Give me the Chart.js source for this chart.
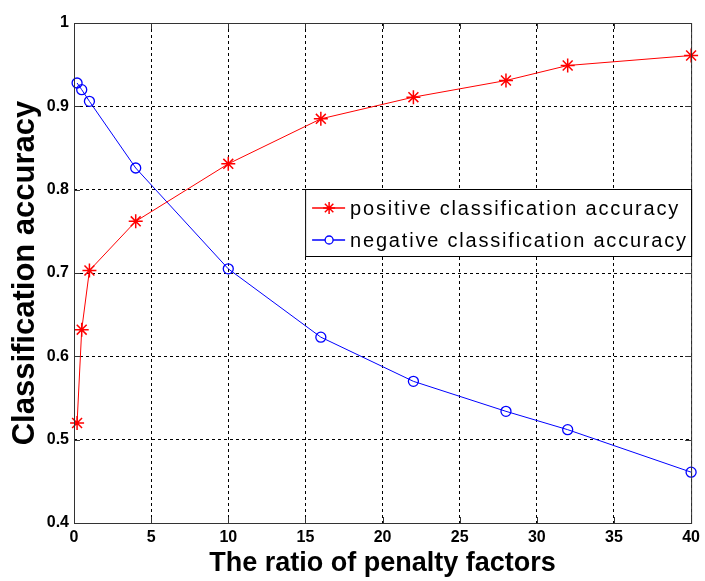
<!DOCTYPE html>
<html>
<head>
<meta charset="utf-8">
<script src="https://cdn.jsdelivr.net/npm/chart.js@4"></script>
<style>
  html, body { margin: 0; padding: 0; background: #fff; }
</style>
</head>
<body>
<canvas id="myChart" width="705" height="581"></canvas>
<script>
// penalty factor ratios and the two accuracy curves
const ratios = [0.2, 0.5, 1, 4, 10, 16, 22, 28, 32, 40];
const positiveAcc = [0.520, 0.632, 0.703, 0.762, 0.831, 0.885, 0.911, 0.931, 0.949, 0.961];
const negativeAcc = [0.928, 0.920, 0.906, 0.826, 0.705, 0.623, 0.570, 0.534, 0.512, 0.461];
const xTicks = [0, 5, 10, 15, 20, 25, 30, 35, 40];
const yTicks = [0.4, 0.5, 0.6, 0.7, 0.8, 0.9, 1];

const seriesLabels = ['positive classification accuracy', 'negative classification accuracy'];

const FONT = '"Liberation Sans", Arial, sans-serif';

const toPoints = ys => ratios.map((x, i) => ({ x: x, y: ys[i] }));

// box around the plot with small inward tick marks
const frame = {
  id: 'frame',
  afterDatasetsDraw(chart) {
    const { ctx, chartArea: a, scales } = chart;
    ctx.save();
    ctx.strokeStyle = '#333';
    ctx.lineWidth = 1;
    ctx.strokeRect(a.left + 0.5, a.top + 0.5, a.right - a.left, a.bottom - a.top);
    ctx.beginPath();
    xTicks.forEach(v => {
      const px = Math.round(scales.x.getPixelForValue(v)) + 0.5;
      ctx.moveTo(px, a.bottom); ctx.lineTo(px, a.bottom - 6);
      ctx.moveTo(px, a.top); ctx.lineTo(px, a.top + 6);
    });
    yTicks.forEach(v => {
      const py = Math.round(scales.y.getPixelForValue(v)) + 0.5;
      ctx.moveTo(a.left, py); ctx.lineTo(a.left + 6, py);
      ctx.moveTo(a.right, py); ctx.lineTo(a.right - 6, py);
    });
    ctx.stroke();
    ctx.restore();
  }
};

// legend box inside the plot, upper right
const boxLegend = {
  id: 'boxLegend',
  afterDraw(chart) {
    const { ctx, chartArea: a } = chart;
    const right = a.right, left = a.right - 386;
    const top = a.top + 166, bottom = top + 67;
    ctx.save();
    ctx.fillStyle = '#fff';
    ctx.fillRect(left, top, right - left, bottom - top);
    ctx.strokeStyle = '#000';
    ctx.lineWidth = 1;
    ctx.strokeRect(left + 0.5, top + 0.5, right - left, bottom - top);
    ctx.font = '20px ' + FONT;
    ctx.letterSpacing = '1.8px';
    ctx.textBaseline = 'middle';
    chart.data.datasets.forEach((ds, i) => {
      const y = top + 19 + i * 32;
      ctx.strokeStyle = ds.borderColor;
      ctx.lineWidth = 1.5;
      ctx.beginPath();
      ctx.moveTo(left + 7, y); ctx.lineTo(left + 40, y);
      ctx.stroke();
      ctx.fillStyle = '#fff';
      ctx.lineWidth = ds.pointBorderWidth;
      Chart.helpers.drawPoint(ctx, {
        pointStyle: ds.pointStyle, radius: ds.pointRadius - 1, borderWidth: ds.pointBorderWidth
      }, left + 24, y);
      ctx.fillStyle = '#000';
      ctx.fillText(ds.label, left + 45, y + 1);
    });
    ctx.restore();
  }
};

const data = {
  datasets: [{
    label: seriesLabels[0],
    data: toPoints(positiveAcc),
    borderColor: '#ff0000',
    backgroundColor: '#ff0000',
    borderWidth: 1,
    pointStyle: 'star',
    pointRadius: 7,
    pointBorderWidth: 1.5,
    clip: false
  }, {
    label: seriesLabels[1],
    data: toPoints(negativeAcc),
    borderColor: '#0000ff',
    backgroundColor: 'rgba(0,0,0,0)',
    borderWidth: 1,
    pointStyle: 'circle',
    pointRadius: 5,
    pointBorderWidth: 1.3,
    clip: false
  }]
};

const config = {
  type: 'line',
  data: data,
  plugins: [frame, boxLegend],
  options: {
    responsive: false,
    animation: false,
    devicePixelRatio: 1,
    layout: { padding: { left: 0, right: 11, top: 23, bottom: 0 } },
    plugins: {
      legend: { display: false },
      tooltip: { enabled: false }
    },
    scales: {
      x: {
        type: 'linear',
        min: 0,
        max: 40,
        afterFit: s => { s.height = 58; },
        afterBuildTicks: s => { s.ticks = xTicks.map(v => ({ value: v })); },
        // in v4 border.dash sets the dash of the grid lines
        border: { display: false, dash: [3, 3] },
        grid: { color: '#000', drawTicks: false },
        ticks: {
          padding: 5,
          color: '#000',
          maxRotation: 0,
          font: { family: FONT, size: 16, weight: 'bold' },
          callback: v => String(v)
        },
        title: {
          display: true,
          text: 'The ratio of penalty factors',
          color: '#000',
          font: { family: FONT, size: 27, weight: 'bold' },
          padding: { top: 0, bottom: 1 }
        }
      },
      y: {
        min: 0.4,
        max: 1,
        afterFit: s => { s.width = 74; },
        afterBuildTicks: s => { s.ticks = yTicks.map(v => ({ value: v })); },
        border: { display: false, dash: [3, 3] },
        grid: { color: '#000', drawTicks: false },
        ticks: {
          padding: 5,
          color: '#000',
          font: { family: FONT, size: 16, weight: 'bold' },
          callback: v => String(+v.toFixed(1))
        },
        title: {
          display: true,
          text: 'Classification accuracy',
          color: '#000',
          font: { family: FONT, size: 31, weight: 'bold' },
          padding: { top: 7, bottom: 0 }
        }
      }
    }
  }
};

new Chart(document.getElementById('myChart'), config);
</script>
</body>
</html>
